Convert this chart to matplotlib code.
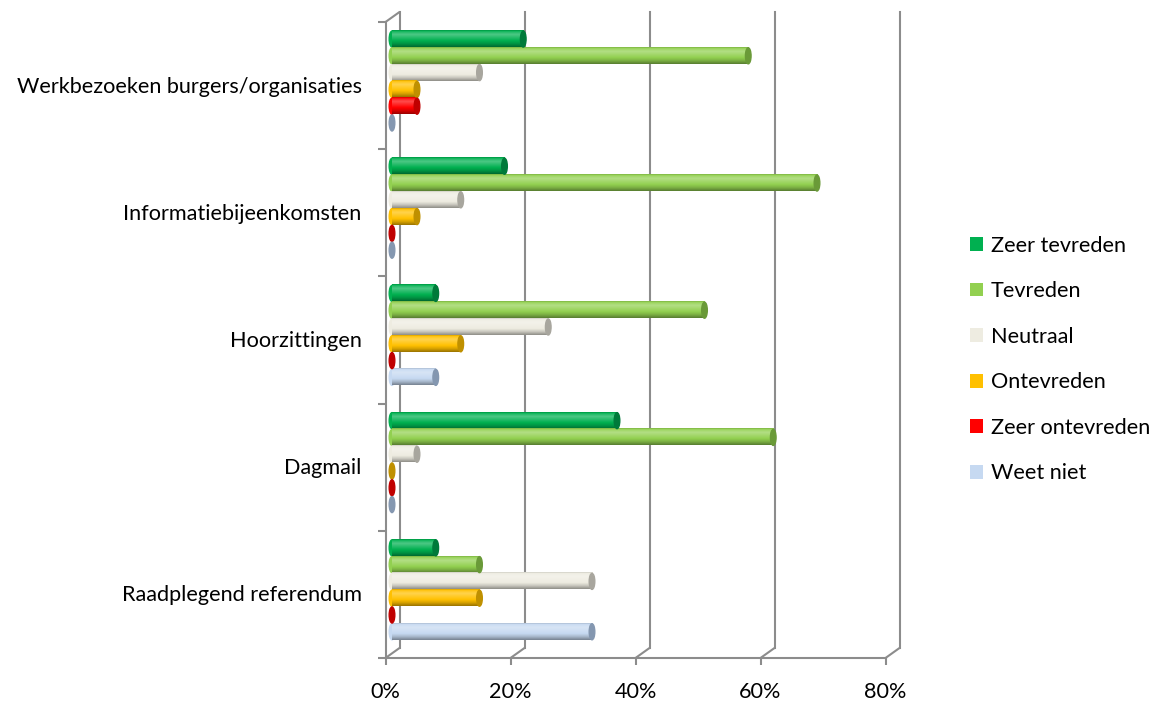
import numpy as np
import matplotlib
matplotlib.use('Agg')
import matplotlib.pyplot as plt
from matplotlib.patches import Ellipse, Patch, ConnectionPatch
from matplotlib.transforms import offset_copy
from matplotlib.colors import to_rgb
from matplotlib.markers import TICKDOWN, TICKLEFT

# categories from bottom to top
categories = ['Raadplegend referendum', 'Dagmail', 'Hoorzittingen',
              'Informatiebijeenkomsten', 'Werkbezoeken burgers/organisaties']
series = ['Zeer tevreden', 'Tevreden', 'Neutraal', 'Ontevreden', 'Zeer ontevreden', 'Weet niet']

zeer_tevreden = [7, 36, 7, 18, 21]
tevreden = [14, 61, 50, 68, 57]
neutraal = [32, 4, 25, 11, 14]
ontevreden = [14, 0, 11, 4, 4]
zeer_ontevreden = [0, 0, 0, 0, 4]
weet_niet = [32, 0, 7, 0, 0]
values = [zeer_tevreden, tevreden, neutraal, ontevreden, zeer_ontevreden, weet_niet]

x_ticks = [0, 20, 40, 60, 80]

colors = ['#00B050', '#92D050', '#EEECE1', '#FFC000', '#FF0000', '#C6D9F1']
cap_colors = ['#007a3a', '#6a9a38', '#a8a69e', '#bf9000', '#c00000', '#8497b0']
grid_color = '#8c8c8c'

plt.rcParams['font.family'] = ['Lato', 'DejaVu Sans']
fs = 15.6

W, H = 1159, 704
fig = plt.figure(figsize=(W / 100, H / 100), dpi=100)
ax = fig.add_axes([392 / W, (H - 653.4) / H, 500 / W, 636 / H])
ax.axis('off')

# 3d frame: back wall and front edge are shifted copies of the bar plane
back = offset_copy(ax.transData, fig=fig, x=7.5, y=5.4, units='dots')
front = offset_copy(ax.transData, fig=fig, x=-6.5, y=-4.6, units='dots')


def cylinder_shades(color, n=48):
    base = np.array(to_rgb(color))
    t = np.linspace(0, 1, n)
    light = np.interp(t, [0, 0.08, 0.25, 0.5, 0.8, 1], [-0.15, 0.1, 0.3, 0.1, -0.15, -0.4])
    rows = [base + (1 - base) * l if l >= 0 else base * (1 + l) for l in light]
    return np.clip(np.array(rows), 0, 1)[:, None, :]


pitch = 0.132
h = 0.126
cap_w = 0.9

for v in x_ticks:
    ax.plot([v, v], [0, 5], color=grid_color, lw=1.5, transform=back, clip_on=False, zorder=1)
    ax.add_artist(ConnectionPatch((v, 0), (v, 0), coordsA=back, coordsB=front,
                                  color=grid_color, lw=1.5, clip_on=False, zorder=1))
ax.plot([0, 80], [0, 0], color=grid_color, lw=1.5, transform=front, clip_on=False, zorder=1)
ax.plot([0, 0], [0, 5], color=grid_color, lw=1.5, transform=front, clip_on=False, zorder=1)
ax.add_artist(ConnectionPatch((0, 5), (0, 5), coordsA=back, coordsB=front,
                              color=grid_color, lw=1.5, clip_on=False, zorder=1))
ax.plot(x_ticks, [0] * len(x_ticks), ls='none', marker=TICKDOWN, ms=5, mew=1.5,
        color=grid_color, transform=front, clip_on=False)
ax.plot([0] * 6, range(6), ls='none', marker=TICKLEFT, ms=6, mew=1.5,
        color=grid_color, transform=front, clip_on=False)

for j, vals in enumerate(values):
    img = cylinder_shades(colors[j])
    for k, v in enumerate(vals):
        yc = k + 0.5 + (2.5 - j) * pitch
        if v > 0:
            ax.add_patch(Ellipse((0, yc), cap_w, h, color=colors[j], clip_on=False, zorder=2))
            ax.imshow(img, extent=(0, v, yc - h / 2, yc + h / 2), aspect='auto',
                      interpolation='bilinear', zorder=3)
        ax.add_patch(Ellipse((v, yc), cap_w, h, color=cap_colors[j], clip_on=False, zorder=4))

ax.set_xlim(0, 80)
ax.set_ylim(0, 5)

xlab_tr = offset_copy(front, fig=fig, y=-34, units='dots')
for v in x_ticks:
    ax.text(v, 0, f'{v}%', transform=xlab_tr, ha='center', va='center', fontsize=fs)
ylab_tr = offset_copy(front, fig=fig, x=-24, y=-1, units='dots')
for k, c in enumerate(categories):
    ax.text(0, k + 0.5, c, transform=ylab_tr, ha='right', va='center', fontsize=fs)

handles = [Patch(facecolor=c, edgecolor='none') for c in colors]
fig.legend(handles, series, loc='center left', bbox_to_anchor=(970 / W, (H - 359.5) / H),
           frameon=False, fontsize=fs, handlelength=0.6, handleheight=0.6,
           handletextpad=0.35, labelspacing=1.18, borderpad=0, borderaxespad=0)

fig.savefig('out.png', dpi=100)
